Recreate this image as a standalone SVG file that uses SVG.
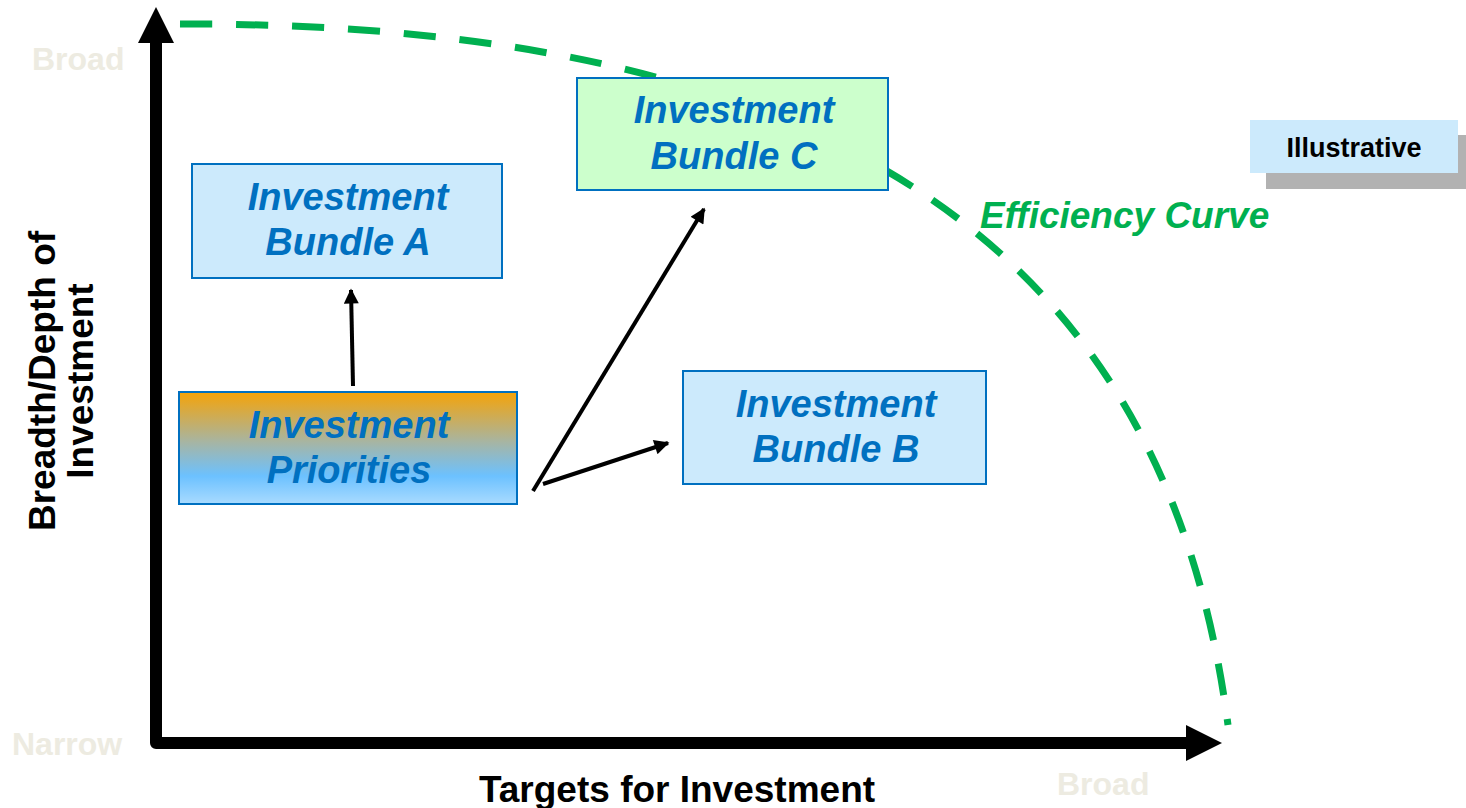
<svg xmlns="http://www.w3.org/2000/svg" width="1466" height="808" viewBox="0 0 1466 808">
  <style>
    .box { stroke: #0070C0; stroke-width: 2; }
    .blue { fill: #CCEAFC; }
    .green { fill: #CCFFCC; }
    .boxtext { font-family: "Liberation Sans", Arial, sans-serif; font-weight: bold; font-style: italic; font-size: 38px; fill: #0070C0; text-anchor: middle; }
    .scale { font-family: "Liberation Sans", Arial, sans-serif; font-weight: bold; font-size: 32px; fill: #EDEBE1; }
    .title { font-family: "Liberation Sans", Arial, sans-serif; font-weight: bold; font-size: 37px; fill: #000; text-anchor: middle; }
    .link { stroke: #000; stroke-width: 4; fill: none; marker-end: url(#head); }
  </style>
  <defs>
    <linearGradient id="prio" x1="0" y1="0" x2="0" y2="1">
      <stop offset="0" stop-color="#F5A308"/>
      <stop offset="0.45" stop-color="#A6B5A4"/>
      <stop offset="0.75" stop-color="#6CC1FF"/>
      <stop offset="1" stop-color="#A9DBFF"/>
    </linearGradient>
    <marker id="head" viewBox="0 0 10 10" refX="9" refY="5" markerUnits="userSpaceOnUse" markerWidth="17" markerHeight="15" orient="auto">
      <path d="M0,0 L10,5 L0,10 z" fill="#000"/>
    </marker>
  </defs>

  <!-- axis scale labels -->
  <text class="scale" x="32" y="70">Broad</text>
  <text class="scale" x="12" y="755">Narrow</text>
  <text class="scale" x="1057" y="795">Broad</text>

  <!-- axis titles -->
  <text class="title" transform="translate(55,381) rotate(-90)">Breadth/Depth of</text>
  <text class="title" transform="translate(93,381) rotate(-90)">Investment</text>
  <text class="title" x="677" y="802">Targets for Investment</text>

  <!-- efficiency frontier -->
  <path d="M180,24 C820,22 1165,240 1228,725" fill="none" stroke="#00B050" stroke-width="7" stroke-dasharray="32 24"/>
  <text x="980" y="228" font-family="Liberation Sans, Arial, sans-serif" font-weight="bold" font-style="italic" font-size="37" fill="#00B050">Efficiency Curve</text>

  <!-- axes -->
  <g id="axes">
    <path d="M156,40 L156,743 L1190,743" fill="none" stroke="#000" stroke-width="12" stroke-linejoin="round"/>
    <polygon points="156,7 138,43 174,43" fill="#000"/>
    <polygon points="1222,743 1186,725 1186,761" fill="#000"/>
  </g>

  <!-- nodes -->
  <g id="bundle-a">
    <rect class="box blue" x="192" y="164" width="310" height="114"/>
    <text class="boxtext" x="348" y="210">Investment</text>
    <text class="boxtext" x="348" y="255">Bundle A</text>
  </g>
  <g id="bundle-c">
    <rect class="box green" x="577" y="78" width="311" height="112"/>
    <text class="boxtext" x="734" y="123">Investment</text>
    <text class="boxtext" x="734" y="169">Bundle C</text>
  </g>
  <g id="bundle-b">
    <rect class="box blue" x="683" y="371" width="303" height="113"/>
    <text class="boxtext" x="836" y="417">Investment</text>
    <text class="boxtext" x="836" y="462">Bundle B</text>
  </g>
  <g id="priorities">
    <rect class="box" x="179" y="392" width="338" height="112" fill="url(#prio)"/>
    <text class="boxtext" x="349" y="438">Investment</text>
    <text class="boxtext" x="349" y="483">Priorities</text>
  </g>
  <g id="illustrative">
    <rect x="1266" y="135" width="200" height="54" fill="#B2B2B2"/>
    <rect x="1250" y="120" width="208" height="53" fill="#CCEAFC"/>
    <text x="1354" y="157" font-family="Liberation Sans, Arial, sans-serif" font-weight="bold" font-size="27" fill="#000" text-anchor="middle">Illustrative</text>
  </g>

  <!-- connectors -->
  <g id="connectors">
    <line class="link" x1="353" y1="386" x2="351" y2="290"/>
    <line class="link" x1="533" y1="491" x2="704" y2="209"/>
    <line class="link" x1="543" y1="484" x2="668" y2="443"/>
  </g>
</svg>
